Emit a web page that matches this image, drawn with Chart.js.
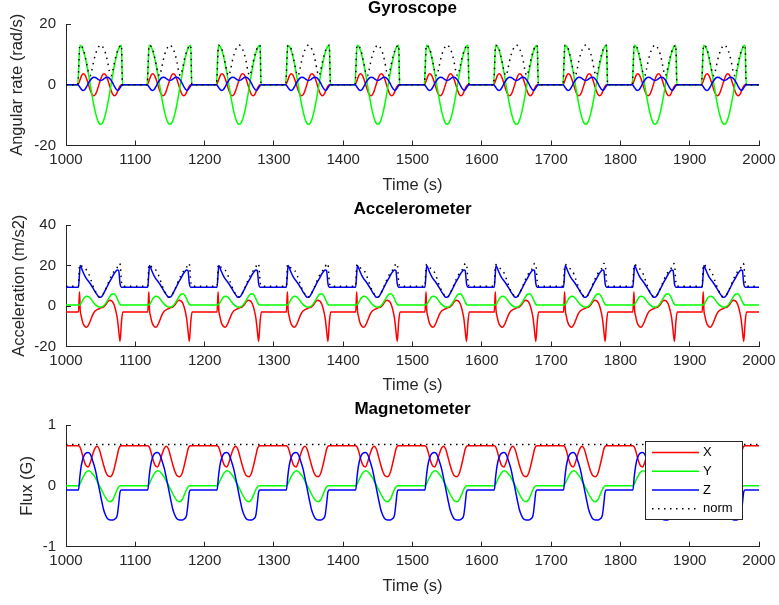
<!DOCTYPE html>
<html>
<head>
<meta charset="utf-8">
<script src="https://cdn.jsdelivr.net/npm/chart.js@4"></script>
<style>
body{margin:0;background:#fff;}
canvas{position:absolute;left:0;}
</style>
</head>
<body>
<canvas id="gyro" width="779" height="200" style="top:0"></canvas>
<canvas id="acc" width="779" height="200" style="top:200px"></canvas>
<canvas id="mag" width="779" height="205" style="top:400px"></canvas>
<script>
const cycleStarts = [1000, 1100, 1200, 1300, 1400, 1500, 1600, 1700, 1800, 1900];

// gyroscope, rad/s (time offsets inside a period)
const gyroT = [0, 17, 20, 22.5, 25, 27.5, 30, 32.5, 35, 37.5, 40, 42.5, 45, 47.5, 50, 52.5, 55, 57.5, 60, 62.5, 65, 67.5, 70, 72.5, 75, 77.5, 80, 81.5];
const gyroX = [0, 0, 1.5, 3, 3.6, 3.2, 1.8, 0, -1.8, -3.2, -3.6, -3.2, -1.8, 0, 1.8, 3.2, 3.6, 3.2, 1.8, 0, -1.8, -3.2, -3.6, -3.2, -1.8, -0.6, 0, 0];
const gyroY = [0, 0, 13, 12.6, 11.3, 9.2, 6.5, 3.4, 0, -3.4, -6.5, -9.2, -11.3, -12.6, -13, -12.6, -11.3, -9.2, -6.5, -3.4, 0, 3.4, 6.5, 9.2, 11.3, 12.6, 13, 0];
const gyroZ = [0, 0, -0.8, -1.6, -1.9, -1.5, -0.5, 0.6, 1.5, 2.2, 2.5, 2.4, 2, 1.6, 1.4, 1.6, 2, 2.4, 2.5, 2.2, 1.5, 0.5, -0.6, -1.5, -1.9, -1.2, -0.3, 0];
const gyroN = [0, 0, 13, 12.7, 11.8, 9.5, 6.8, 4, 3, 5, 7.8, 10, 11.6, 12.6, 13.1, 12.6, 11.6, 10, 7.6, 4.5, 3, 4.7, 7.5, 9.8, 11.6, 12.6, 13, 0];

// accelerometer, m/s2
const accT = [0, 18, 19.5, 20.5, 22, 24, 27, 30, 33, 36, 39, 42, 45, 48, 51, 54, 57, 60, 63, 66, 69, 72, 74, 76, 78, 80, 82];
const accX = [-3, -3, 7, -2, -5, -8, -10, -10.5, -9, -6.5, -4, -2.5, -1.8, -1.3, -0.8, -0.5, 0.5, 2, 2.8, 2.5, 1, -2.5, -6, -12, -17.5, -8, -3];
const accY = [0.5, 0.5, 0.6, 0.8, 1.5, 2.8, 4.3, 4.8, 4.5, 3.4, 2, 0.8, 0, -0.5, -0.5, 0, 1.2, 2.8, 4.5, 5.8, 6, 5, 3.6, 2, 0.8, 0.5, 0.5];
const accZ = [9.3, 9.3, 16, 20, 19, 17.3, 15, 13.3, 12, 10.5, 8.8, 7, 5.5, 4.3, 4.5, 6, 8, 10, 12, 13.8, 15.8, 17.2, 17.8, 17.5, 11, 9.3, 9.3];
const accN = [9.8, 9.8, 20, 20.5, 20.2, 19, 18.5, 17.6, 15.7, 12.8, 9.9, 7.5, 5.8, 4.5, 4.6, 6, 8.1, 10.6, 13.1, 15.2, 16.9, 18.1, 19.1, 21, 20.7, 12, 9.8];

// magnetometer, G
const magT = [0, 18, 20, 22, 25, 28, 32, 35, 38, 42, 45, 48, 51, 54, 57, 60, 64, 68, 71, 74, 76, 78, 80];
const magX = [0.66, 0.66, 0.64, 0.58, 0.45, 0.35, 0.31, 0.38, 0.5, 0.62, 0.65, 0.6, 0.48, 0.35, 0.24, 0.17, 0.15, 0.22, 0.35, 0.5, 0.6, 0.65, 0.66];
const magY = [0, 0, 0.03, 0.08, 0.15, 0.21, 0.25, 0.24, 0.2, 0.14, 0.07, 0.01, -0.06, -0.13, -0.19, -0.24, -0.26, -0.22, -0.14, -0.06, -0.02, 0, 0];
const magZ = [-0.07, -0.07, 0.15, 0.33, 0.47, 0.53, 0.55, 0.52, 0.43, 0.28, 0.12, -0.05, -0.22, -0.38, -0.48, -0.54, -0.56, -0.56, -0.54, -0.48, -0.3, -0.1, -0.07];
const magN = [0.68, 0.68, 0.68, 0.68, 0.68, 0.68, 0.68, 0.68, 0.68, 0.68, 0.68, 0.68, 0.68, 0.68, 0.68, 0.68, 0.68, 0.68, 0.68, 0.68, 0.68, 0.68, 0.68];

const INK = '#262626';
const FONT = '"Liberation Sans", Arial, Helvetica, sans-serif';
Chart.defaults.font.family = FONT;
Chart.defaults.color = INK;

function tile(offsets, vals) {
  const pts = [];
  cycleStarts.forEach(c => offsets.forEach((o, i) => pts.push({ x: c + o, y: vals[i] })));
  pts.push({ x: 2000, y: vals[vals.length - 1] });
  return pts;
}

function sensorSets(t, xs, ys, zs, ns) {
  return [
    { label: 'X', data: tile(t, xs), borderColor: '#ff0000', order: 3 },
    { label: 'Y', data: tile(t, ys), borderColor: '#00ff00', order: 2 },
    { label: 'Z', data: tile(t, zs), borderColor: '#0000ff', order: 1 },
    { label: 'norm', data: tile(t, ns), borderColor: '#000000', borderDash: [1.5, 4.5], order: 0 }
  ];
}

// title centred over the axes like matlab does
const axesTitle = {
  id: 'axesTitle',
  afterDraw(chart, args, opts) {
    const { ctx, chartArea: a } = chart;
    ctx.save();
    ctx.font = 'bold 17px ' + FONT;
    ctx.fillStyle = '#000';
    ctx.textAlign = 'center';
    ctx.textBaseline = 'middle';
    ctx.fillText(opts.text, (a.left + a.right) / 2, a.top - 16);
    ctx.restore();
  }
};

const legendBox = {
  id: 'legendBox',
  afterDatasetsDraw(chart) {
    const { ctx, chartArea: a } = chart;
    const left = a.right - 114, top = a.top + 16, w = 97, h = 78;
    ctx.save();
    ctx.fillStyle = '#fff';
    ctx.fillRect(left, top, w, h);
    ctx.strokeStyle = INK;
    ctx.lineWidth = 1;
    ctx.strokeRect(left + 0.5, top + 0.5, w, h);
    ctx.font = '13px ' + FONT;
    ctx.textBaseline = 'middle';
    chart.data.datasets.forEach((ds, i) => {
      const y = top + 11.6 + i * 18.7;
      ctx.strokeStyle = ds.borderColor;
      ctx.lineWidth = 1.5;
      ctx.setLineDash(ds.borderDash || []);
      ctx.beginPath();
      ctx.moveTo(left + 7, y);
      ctx.lineTo(left + 54, y);
      ctx.stroke();
      ctx.setLineDash([]);
      ctx.fillStyle = '#000';
      ctx.fillText(ds.label, left + 58, y);
    });
    ctx.restore();
  }
};

function makeChart(id, c) {
  return new Chart(document.getElementById(id), {
    type: 'line',
    data: { datasets: c.datasets },
    options: {
      responsive: false,
      animation: false,
      layout: { padding: { left: 0, right: 20, top: c.top, bottom: 0 } },
      elements: {
        point: { radius: 0 },
        line: { borderWidth: 1.5, cubicInterpolationMode: 'monotone' }
      },
      plugins: {
        legend: { display: false },
        tooltip: { enabled: false },
        title: { display: false },
        axesTitle: { text: c.title }
      },
      scales: {
        x: {
          type: 'linear',
          min: 1000,
          max: 2000,
          afterFit: s => { s.height = c.xHeight; s.paddingLeft = 0; s.paddingRight = 0; },
          border: { color: INK, width: 1 },
          grid: { drawOnChartArea: false, drawTicks: true, tickLength: -5, color: INK },
          ticks: { stepSize: 100, padding: 10, maxRotation: 0, autoSkip: false, font: { size: 15 }, color: INK, callback: v => String(v) },
          title: { display: true, text: 'Time (s)', color: INK, font: { size: 16.5 }, padding: { top: 0, bottom: c.xTitlePad } }
        },
        y: {
          min: c.yMin,
          max: c.yMax,
          afterFit: s => { s.width = 66; },
          border: { color: INK, width: 1 },
          grid: { drawOnChartArea: false, drawTicks: true, tickLength: -5, color: INK },
          ticks: { stepSize: c.yStep, padding: 15, font: { size: 15 }, color: INK, callback: v => String(v) },
          title: { display: true, text: c.yLabel, color: INK, font: { size: 16.5 }, padding: { top: c.yTitlePad, bottom: 0 } }
        }
      }
    },
    plugins: c.plugins
  });
}

makeChart('gyro', {
  title: 'Gyroscope', yLabel: 'Angular rate (rad/s)',
  yMin: -20, yMax: 20, yStep: 20,
  top: 23.5, xHeight: 54.5, xTitlePad: 4.6, yTitlePad: 7.6,
  datasets: sensorSets(gyroT, gyroX, gyroY, gyroZ, gyroN),
  plugins: [axesTitle]
});

makeChart('acc', {
  title: 'Accelerometer', yLabel: 'Acceleration (m/s2)',
  yMin: -20, yMax: 40, yStep: 20,
  top: 25, xHeight: 53.5, xTitlePad: 4.6, yTitlePad: 9.1,
  datasets: sensorSets(accT, accX, accY, accZ, accN),
  plugins: [axesTitle]
});

makeChart('mag', {
  title: 'Magnetometer', yLabel: 'Flux (G)',
  yMin: -1, yMax: 1, yStep: 1,
  top: 25, xHeight: 58.3, xTitlePad: 9.1, yTitlePad: 17.6,
  datasets: sensorSets(magT, magX, magY, magZ, magN),
  plugins: [axesTitle, legendBox]
});
</script>
</body>
</html>
